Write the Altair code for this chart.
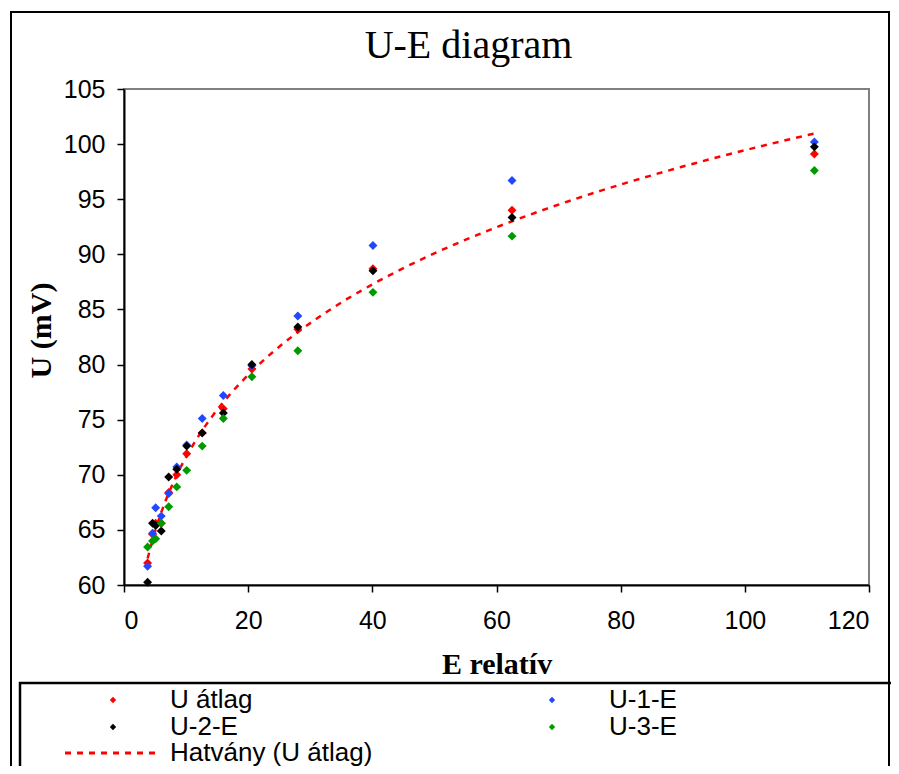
import altair as alt
import pandas as pd

# ---- data ----
E = [3.8, 4.6, 5.1, 6.0, 7.2, 8.5, 10.1, 12.6, 16.0, 20.6, 28.0, 40.1, 62.5, 111.2]
U_atlag = [62.0, 64.6, 65.6, 65.6, 68.4, 70.0, 71.9, 73.8, 76.0, 79.6, 83.2, 88.7, 94.0, 99.1]
U_1_E = [61.7, 64.7, 67.0, 66.25, 68.3, 70.7, 72.7, 75.1, 77.2, 79.9, 84.4, 90.8, 96.7, 100.2]
U_2_E = [60.25, 65.6, 65.4, 64.9, 69.8, 70.5, 72.6, 73.8, 75.6, 80.0, 83.4, 88.5, 93.35, 99.75]
U_3_E = [63.45, 64.0, 64.2, 65.6, 67.1, 68.9, 70.4, 72.6, 75.1, 78.9, 81.25, 86.55, 91.65, 97.6]

series_names = ["U átlag", "U-1-E", "U-2-E", "U-3-E"]
series_colors = ["#ff0000", "#2347ff", "#000000", "#009a00"]
trend_name = "Hatvány (U átlag)"
x_ticks = [0, 20, 40, 60, 80, 100, 120]
y_ticks = [60, 65, 70, 75, 80, 85, 90, 95, 100, 105]

rows = []
for name, vals in zip(series_names, [U_atlag, U_1_E, U_2_E, U_3_E]):
    for e, u in zip(E, vals):
        rows.append({"E": e, "U": u, "series": name})
df = pd.DataFrame(rows)

SANS = "Liberation Sans"
SERIF = "Liberation Serif"

x_enc = alt.X(
    "E:Q",
    scale=alt.Scale(domain=[0, 120], nice=False),
    axis=alt.Axis(values=x_ticks, title="E relatív", labelPadding=16,
                  titleBaseline="alphabetic", titleY=88),
)
y_enc = alt.Y(
    "U:Q",
    scale=alt.Scale(domain=[60, 105], nice=False, zero=False),
    axis=alt.Axis(values=y_ticks, title="U (mV)", labelPadding=12,
                  titleBaseline="alphabetic", titleX=-74, titleY=241),
)

frame = alt.Chart(alt.Data(values=[{"k": 1}])).mark_rect(
    fillOpacity=0, stroke="black", strokeWidth=2
).encode(x=alt.value(-113), x2=alt.value(765), y=alt.value(-77), y2=alt.value(720))

legend_box = alt.Chart(alt.Data(values=[{"k": 1}])).mark_rect(
    fillOpacity=0, stroke="black", strokeWidth=2.5
).encode(x=alt.value(-104), x2=alt.value(800), y=alt.value(594), y2=alt.value(720))

trend = (
    alt.Chart(df)
    .transform_filter(alt.FieldEqualPredicate(field="series", equal="U átlag"))
    .transform_regression("E", "U", method="pow")
    .transform_calculate(trend=f"'{trend_name}'")
    .mark_line(color="#ff0000", strokeWidth=2.5)
    .encode(
        x=x_enc,
        y=y_enc,
        strokeDash=alt.StrokeDash(
            "trend:N",
            scale=alt.Scale(domain=[trend_name], range=[[6, 6]]),
            legend=alt.Legend(
                title=None, orient="none", legendX=-24, legendY=651,
                symbolType="M-8,0H8", symbolSize=144,
                symbolStrokeColor="#ff0000", symbolStrokeWidth=3,
                labelOffset=44, labelFont=SANS, labelFontSize=26,
                labelColor="black", labelLimit=600,
            ),
        ),
    )
)

points = (
    alt.Chart(df)
    .mark_point(shape="diamond", filled=True, size=80, opacity=1)
    .encode(
        x=x_enc,
        y=y_enc,
        color=alt.Color(
            "series:N",
            scale=alt.Scale(domain=series_names, range=series_colors),
            legend=alt.Legend(
                title=None, orient="none", legendX=-24, legendY=598,
                columns=2, columnPadding=286, rowPadding=1, direction="horizontal",
                symbolType="diamond", symbolSize=40, labelOffset=44,
                labelFont=SANS, labelFontSize=26, labelColor="black",
                labelLimit=600,
            ),
        ),
    )
)

chart = (
    alt.layer(frame, legend_box, trend, points)
    .properties(
        width=745,
        height=496,
        autosize=alt.AutoSizeParams(type="none"),
        padding={"left": 116, "top": 81, "right": 22, "bottom": 181},
        title=alt.TitleParams(
            "U-E diagram", font=SERIF, fontSize=40, fontWeight="normal",
            color="black", anchor="middle", dx=-28, offset=-55,
        ),
    )
    .resolve_legend(color="independent", strokeDash="independent")
    .configure_view(stroke="#808080", strokeWidth=2)
    .configure_axis(
        grid=False, domainColor="black", domainWidth=2,
        tickColor="black", tickWidth=1.5, tickSize=7,
        labelFont=SANS, labelFontSize=25, labelColor="black",
        titleFont=SERIF, titleFontSize=30, titleFontWeight="bold",
        titleColor="black",
    )
)

chart.save("out.html", embed_options={"renderer": "svg", "actions": False})
